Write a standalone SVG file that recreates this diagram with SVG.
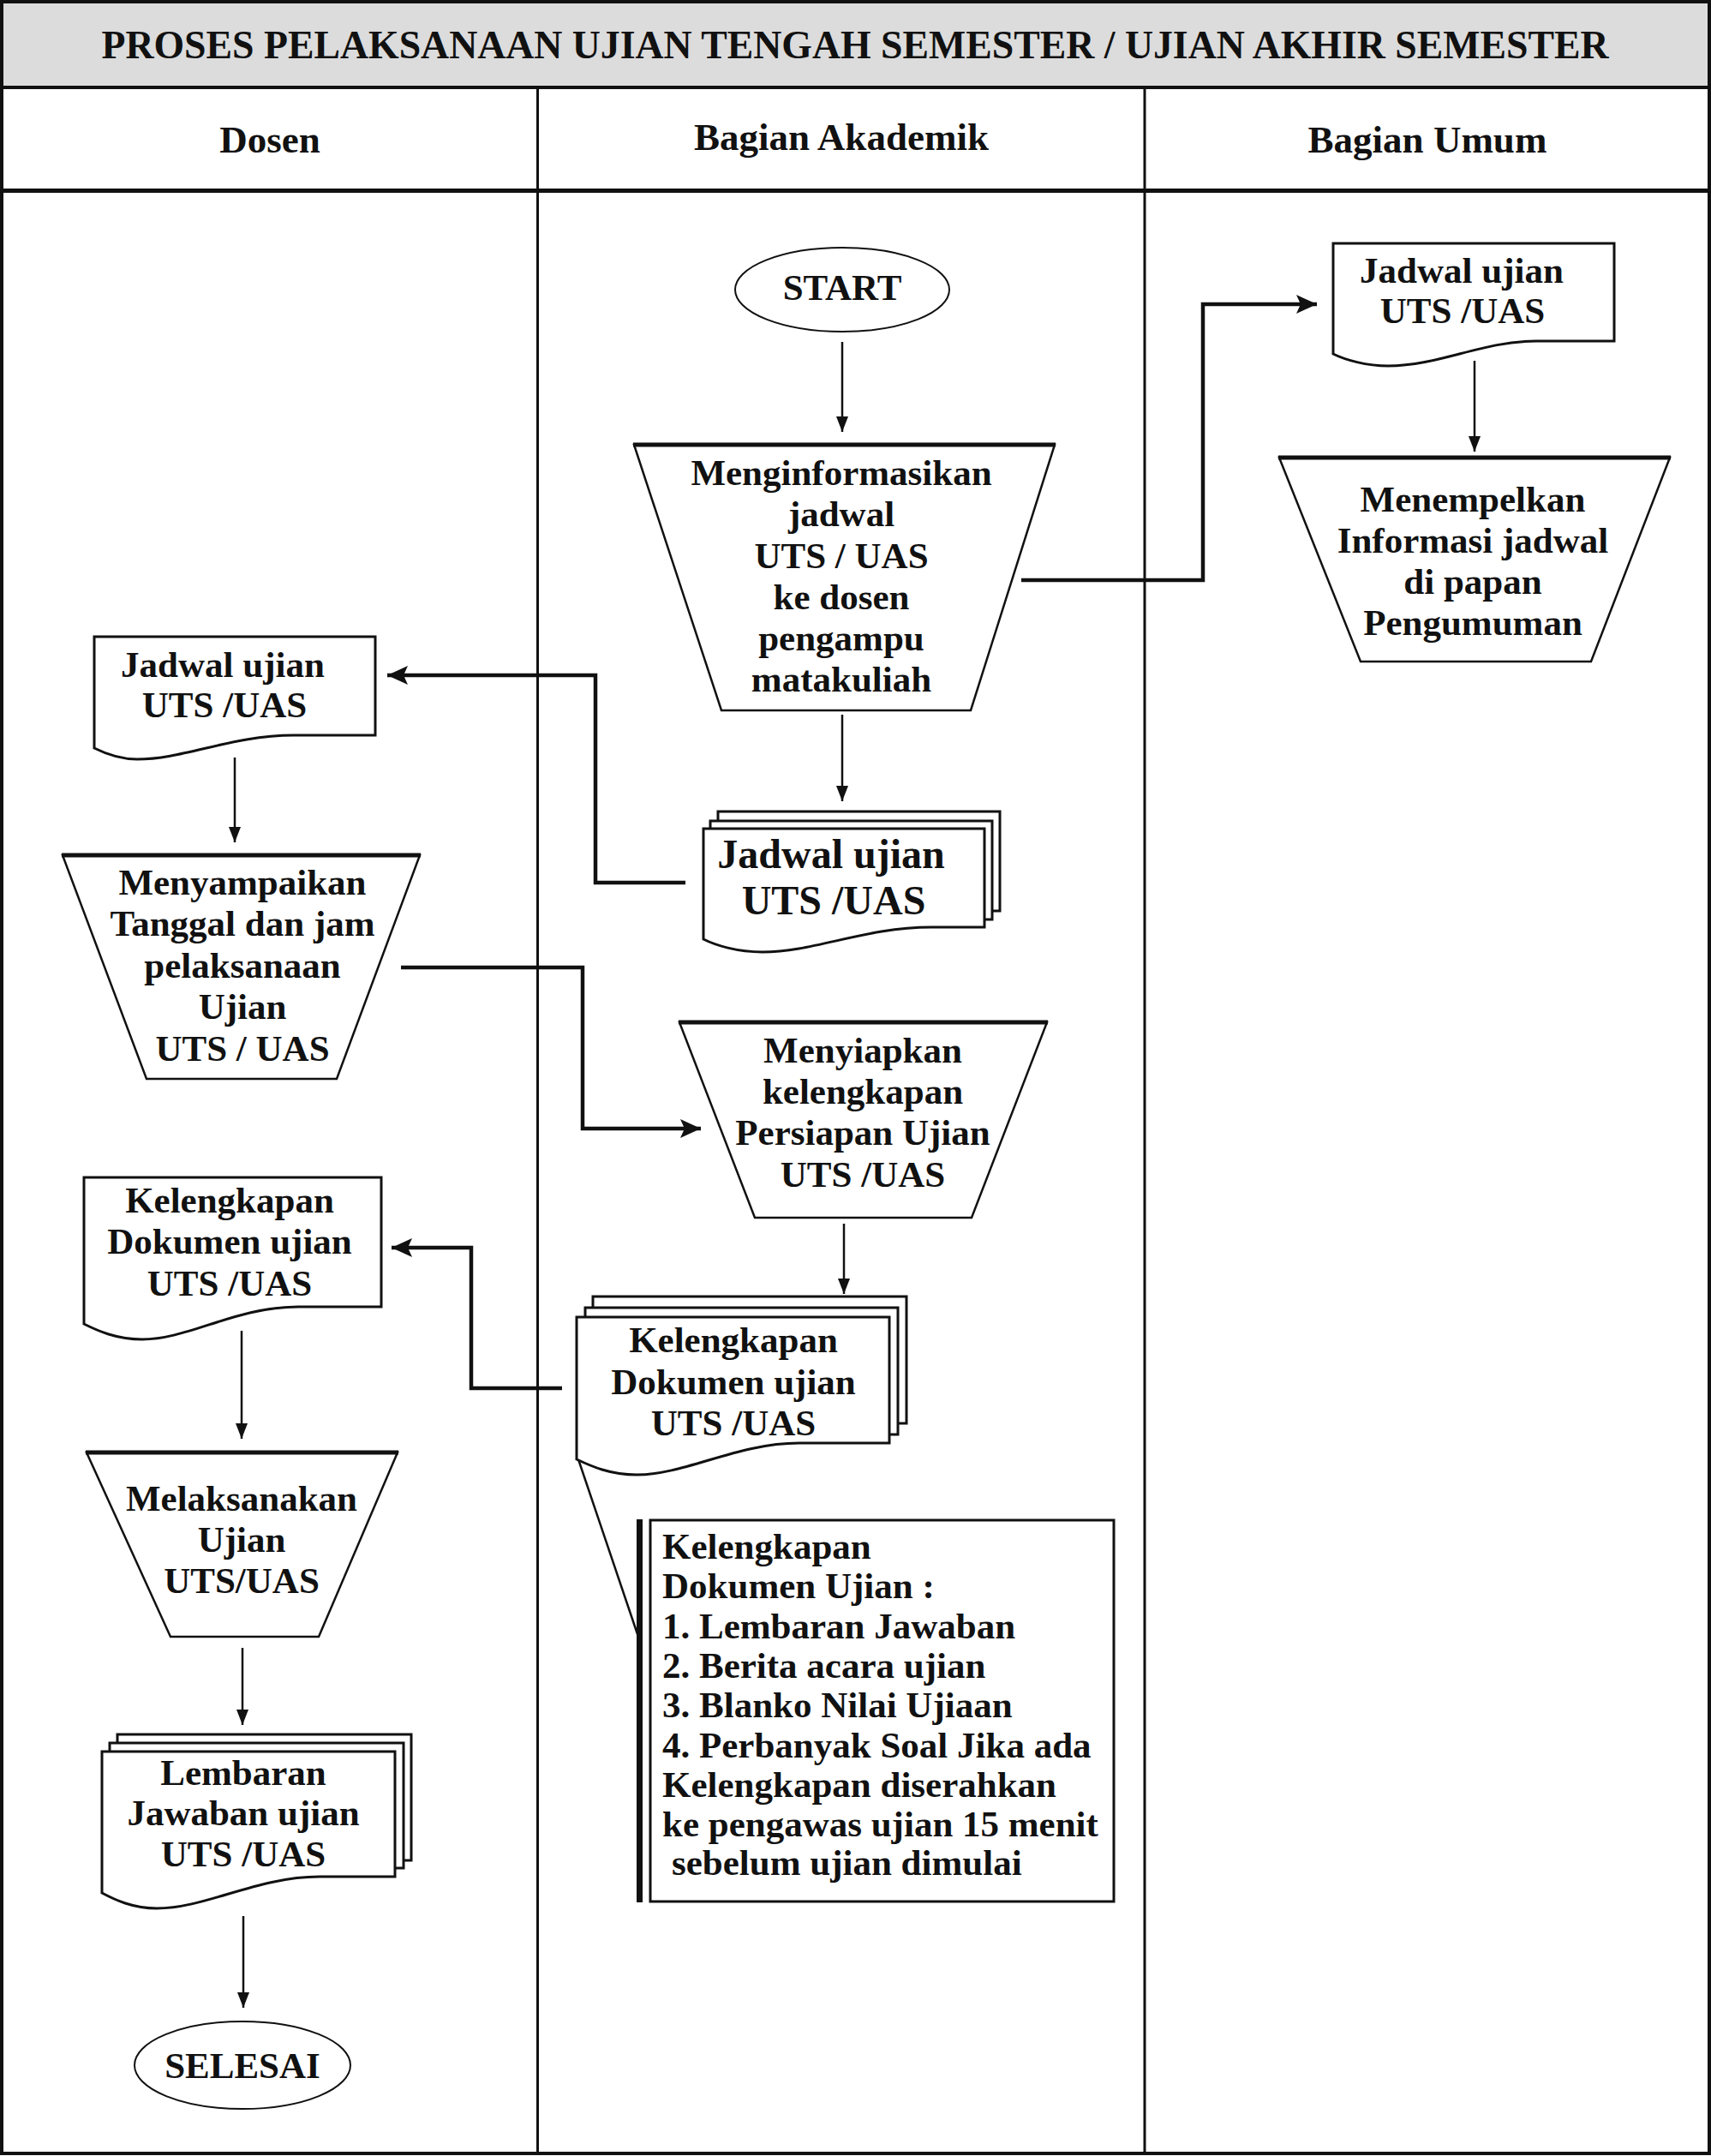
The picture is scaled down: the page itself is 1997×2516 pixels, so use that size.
<svg xmlns="http://www.w3.org/2000/svg" width="1997" height="2516" viewBox="0 0 1997 2516">
<defs>
<style>
text{font-family:"Liberation Serif","Times New Roman",serif;font-weight:bold;fill:#111;}
.t{font-size:43px;text-anchor:middle;}
.tb{font-size:48px;text-anchor:middle;}
.h{font-size:45px;text-anchor:middle;}
.nl{font-size:43px;text-anchor:start;}
.n{fill:#fff;stroke:#111;stroke-width:3;}
.p{fill:#fff;stroke:#111;stroke-width:2.5;}
.tp{stroke:#111;stroke-width:5;}
.e{fill:#fff;stroke:#111;stroke-width:2;}
.a{fill:none;stroke:#111;stroke-width:2.5;}
.c{fill:none;stroke:#111;stroke-width:4.5;}
.f{fill:none;stroke:#111;}
</style>
<marker id="sa" markerUnits="userSpaceOnUse" markerWidth="20" markerHeight="16" refX="18" refY="7" orient="auto"><path d="M0,0 L18,7 L0,14 Z" fill="#111"/></marker>
<marker id="ba" markerUnits="userSpaceOnUse" markerWidth="26" markerHeight="24" refX="24" refY="11" orient="auto"><path d="M0,0 L24,11 L0,22 L5,11 Z" fill="#111"/></marker>
</defs>
<rect x="0" y="0" width="1997" height="2516" fill="#fff"/>
<g id="frame">
<rect x="3" y="3" width="1991" height="99" fill="#dcdcdc"/>
<rect x="2" y="2" width="1993" height="2511" class="f" stroke-width="4"/>
<line x1="2" y1="102" x2="1995" y2="102" class="f" stroke-width="4"/>
<line x1="2" y1="222.5" x2="1995" y2="222.5" class="f" stroke-width="5"/>
<line x1="627.5" y1="102" x2="627.5" y2="2513" class="f" stroke-width="3"/>
<line x1="1336" y1="102" x2="1336" y2="2513" class="f" stroke-width="3"/>
<text x="998" y="68" font-size="47" text-anchor="middle" textLength="1759" lengthAdjust="spacingAndGlyphs">PROSES PELAKSANAAN UJIAN TENGAH SEMESTER / UJIAN AKHIR SEMESTER</text>
<text class="h" x="315" y="178">Dosen</text>
<text class="h" x="982" y="175">Bagian Akademik</text>
<text class="h" x="1666" y="178">Bagian Umum</text>
</g>
<g id="connectors">
<line class="a" x1="983" y1="399" x2="983" y2="504" marker-end="url(#sa)"/>
<line class="a" x1="983" y1="834" x2="983" y2="935" marker-end="url(#sa)"/>
<line class="a" x1="1721" y1="421" x2="1721" y2="527" marker-end="url(#sa)"/>
<line class="a" x1="274" y1="884" x2="274" y2="983" marker-end="url(#sa)"/>
<line class="a" x1="985" y1="1428" x2="985" y2="1510" marker-end="url(#sa)"/>
<line class="a" x1="282" y1="1553" x2="282" y2="1679" marker-end="url(#sa)"/>
<line class="a" x1="283" y1="1923" x2="283" y2="2013" marker-end="url(#sa)"/>
<line class="a" x1="284" y1="2236" x2="284" y2="2343" marker-end="url(#sa)"/>
<path class="c" d="M1192,677 H1404 V355 H1537" marker-end="url(#ba)"/>
<path class="c" d="M800,1030 H695 V788 H452" marker-end="url(#ba)"/>
<path class="c" d="M468,1129 H680 V1317 H818" marker-end="url(#ba)"/>
<path class="c" d="M656,1620 H550 V1456 H457" marker-end="url(#ba)"/>
<line class="a" x1="675" y1="1703" x2="744" y2="1907"/>
</g>
<g id="start">
<ellipse class="e" cx="983" cy="338" rx="125" ry="49"/>
<text class="t" x="983" y="350">START</text>
</g>
<g id="menginformasikan">
<polygon class="p" points="740,519 1231,519 1133,829 842,829"/>
<line class="tp" x1="739" y1="519" x2="1232" y2="519"/>
<text class="t" x="982" y="566">Menginformasikan</text>
<text class="t" x="982" y="614">jadwal</text>
<text class="t" x="982" y="663">UTS / UAS</text>
<text class="t" x="982" y="711">ke dosen</text>
<text class="t" x="982" y="759">pengampu</text>
<text class="t" x="982" y="807">matakuliah</text>
</g>
<g id="umum-jadwal">
<path class="n" d="M1556,284 H1884 V398 H1793 C1730,398 1680,427 1620,427 C1595,427 1570,420 1556,413 Z"/>
<text class="t" x="1706" y="330">Jadwal ujian</text>
<text class="t" x="1707" y="377">UTS /UAS</text>
</g>
<g id="menempelkan">
<polygon class="p" points="1493,534 1949,534 1857,772 1588,772"/>
<line class="tp" x1="1492" y1="534" x2="1950" y2="534"/>
<text class="t" x="1719" y="597">Menempelkan</text>
<text class="t" x="1719" y="645">Informasi jadwal</text>
<text class="t" x="1719" y="693">di papan</text>
<text class="t" x="1719" y="741">Pengumuman</text>
</g>
<g id="akademik-jadwal">
<rect class="n" x="838" y="947" width="329" height="116"/>
<rect class="n" x="829" y="958" width="329" height="115"/>
<path class="n" d="M821,967 H1149 V1082 H1087 C1010,1082 950,1111 890,1111 C860,1111 835,1103 821,1096 Z"/>
<text class="tb" x="970" y="1013">Jadwal ujian</text>
<text class="tb" x="973" y="1067">UTS /UAS</text>
</g>
<g id="dosen-jadwal">
<path class="n" d="M110,743 H438 V858 H343 C270,858 215,886 160,886 C138,886 122,879 110,873 Z"/>
<text class="t" x="260" y="790">Jadwal ujian</text>
<text class="t" x="262" y="837">UTS /UAS</text>
</g>
<g id="menyampaikan">
<polygon class="p" points="73,998 490,998 393,1259 171,1259"/>
<line class="tp" x1="72" y1="998" x2="491" y2="998"/>
<text class="t" x="283" y="1044">Menyampaikan</text>
<text class="t" x="283" y="1092">Tanggal dan jam</text>
<text class="t" x="283" y="1141">pelaksanaan</text>
<text class="t" x="283" y="1189">Ujian</text>
<text class="t" x="283" y="1238">UTS / UAS</text>
</g>
<g id="menyiapkan">
<polygon class="p" points="793,1193 1222,1193 1134,1421 881,1421"/>
<line class="tp" x1="792" y1="1193" x2="1223" y2="1193"/>
<text class="t" x="1007" y="1240">Menyiapkan</text>
<text class="t" x="1007" y="1288">kelengkapan</text>
<text class="t" x="1007" y="1336">Persiapan Ujian</text>
<text class="t" x="1007" y="1385">UTS /UAS</text>
</g>
<g id="akademik-kelengkapan">
<rect class="n" x="692" y="1513" width="366" height="148"/>
<rect class="n" x="683" y="1526" width="365" height="148"/>
<path class="n" d="M673,1537 H1038 V1684 H933 C860,1684 800,1721 743,1721 C712,1721 690,1711 673,1703 Z"/>
<text class="t" x="856" y="1578">Kelengkapan</text>
<text class="t" x="856" y="1627">Dokumen ujian</text>
<text class="t" x="856" y="1675">UTS /UAS</text>
</g>
<g id="dosen-kelengkapan">
<path class="n" d="M98,1374 H445 V1525 H348 C275,1525 220,1563 166,1563 C136,1563 114,1553 98,1545 Z"/>
<text class="t" x="268" y="1415">Kelengkapan</text>
<text class="t" x="268" y="1463">Dokumen ujian</text>
<text class="t" x="268" y="1512">UTS /UAS</text>
</g>
<g id="catatan">
<rect x="743" y="1773" width="7" height="447" fill="#111"/>
<rect class="n" x="759" y="1774" width="541" height="445"/>
<text class="nl" x="773" y="1819">Kelengkapan</text>
<text class="nl" x="773" y="1865">Dokumen Ujian :</text>
<text class="nl" x="773" y="1912">1. Lembaran Jawaban</text>
<text class="nl" x="773" y="1958">2. Berita acara ujian</text>
<text class="nl" x="773" y="2004">3. Blanko Nilai Ujiaan</text>
<text class="nl" x="773" y="2051">4. Perbanyak Soal Jika ada</text>
<text class="nl" x="773" y="2097">Kelengkapan diserahkan</text>
<text class="nl" x="773" y="2143">ke pengawas ujian 15 menit</text>
<text class="nl" x="784" y="2188">sebelum ujian dimulai</text>
</g>
<g id="melaksanakan">
<polygon class="p" points="101,1695 464,1695 372,1910 199,1910"/>
<line class="tp" x1="100" y1="1695" x2="465" y2="1695"/>
<text class="t" x="282" y="1763">Melaksanakan</text>
<text class="t" x="282" y="1811">Ujian</text>
<text class="t" x="282" y="1859">UTS/UAS</text>
</g>
<g id="lembaran">
<rect class="n" x="137" y="2024" width="343" height="147"/>
<rect class="n" x="128" y="2034" width="343" height="146"/>
<path class="n" d="M119,2044 H461 V2190 H373 C300,2190 240,2227 183,2227 C155,2227 134,2217 119,2209 Z"/>
<text class="t" x="284" y="2083">Lembaran</text>
<text class="t" x="284" y="2130">Jawaban ujian</text>
<text class="t" x="284" y="2178">UTS /UAS</text>
</g>
<g id="selesai">
<ellipse class="e" cx="283" cy="2410" rx="126" ry="51"/>
<text class="t" x="283" y="2425">SELESAI</text>
</g>
</svg>
